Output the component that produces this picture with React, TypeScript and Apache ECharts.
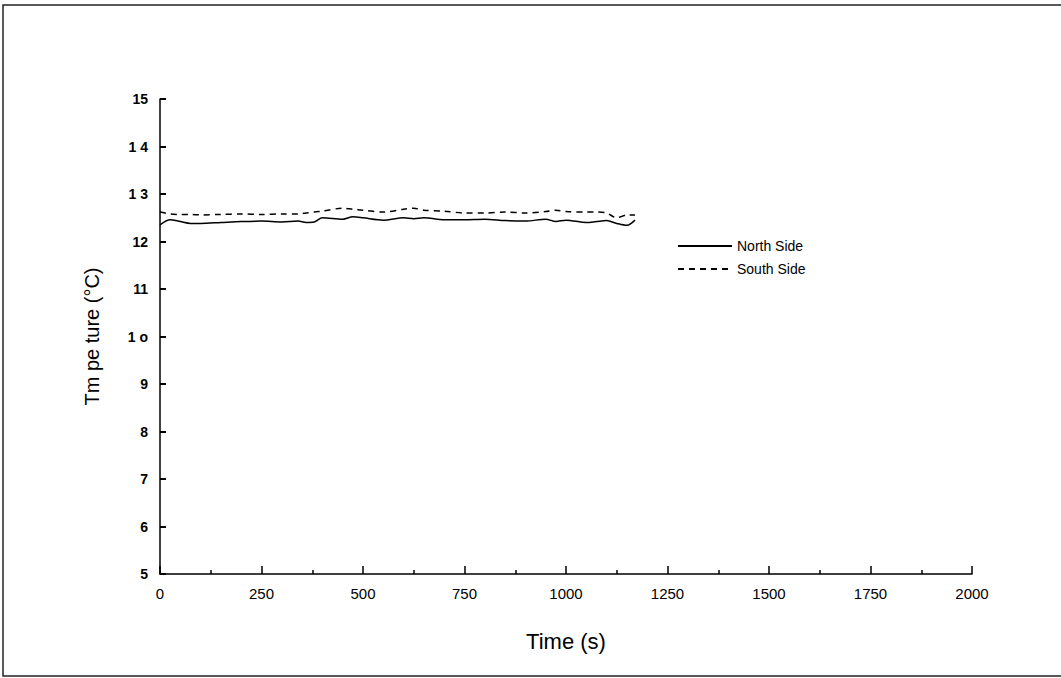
import React, { useEffect, useRef } from "react";
import * as echarts from "echarts";

const timeS = [0, 25, 50, 75, 100, 150, 200, 250, 300, 340, 360, 380, 400, 450, 475, 500, 550, 600, 625, 650, 700, 750, 800, 850, 900, 950, 975, 1000, 1050, 1075, 1100, 1125, 1150, 1170];
const northSide = [12.35, 12.46, 12.42, 12.38, 12.38, 12.4, 12.42, 12.43, 12.41, 12.43, 12.4, 12.41, 12.5, 12.47, 12.52, 12.5, 12.45, 12.5, 12.48, 12.5, 12.46, 12.46, 12.47, 12.44, 12.43, 12.47, 12.42, 12.45, 12.4, 12.42, 12.44, 12.38, 12.34, 12.45];
const southSide = [12.62, 12.58, 12.57, 12.57, 12.56, 12.57, 12.58, 12.57, 12.58, 12.58, 12.6, 12.62, 12.64, 12.7, 12.68, 12.66, 12.62, 12.68, 12.7, 12.66, 12.64, 12.6, 12.6, 12.62, 12.6, 12.63, 12.66, 12.63, 12.62, 12.62, 12.6, 12.5, 12.56, 12.56];
const yTickLabels = ["5", "6", "7", "8", "9", "1 o", "11", "12", "1 3", "1 4", "15"];
const xTickLabels = ["0", "250", "500", "750", "1000", "1250", "1500", "1750", "2000"];

export default function App() {
  const ref = useRef<HTMLDivElement>(null);
  useEffect(() => {
    if (!ref.current) return;
    const chart = echarts.init(ref.current, null, { renderer: "svg" });
    const font = "Liberation Sans, Arial, sans-serif";
    chart.setOption({
      animation: false,
      backgroundColor: "#fff",
      textStyle: { fontFamily: font, color: "#000" },
      graphic: [
        { type: "rect", shape: { x: 3, y: 5, width: 1070, height: 671 }, style: { fill: "none", stroke: "#222", lineWidth: 1.5 } },
      ],
      grid: { left: 160, right: 89, top: 99, bottom: 104 },
      legend: {
        orient: "vertical",
        left: 672,
        top: 234,
        itemWidth: 54,
        itemHeight: 14,
        itemGap: 9,
        itemStyle: { opacity: 0 },
        textStyle: { fontFamily: font, fontSize: 14, color: "#000", letterSpacing: -0.5 },
        data: ["North Side", "South Side"],
      },
      xAxis: {
        type: "value",
        min: 0,
        max: 2000,
        interval: 250,
        name: "Time (s)",
        nameLocation: "middle",
        nameGap: 56,
        nameTextStyle: { fontSize: 22, fontFamily: font, color: "#000" },
        axisLine: { lineStyle: { color: "#000", width: 1.5 } },
        axisTick: { inside: true, length: 8, lineStyle: { color: "#000", width: 1.5 } },
        minorTick: { show: true, splitNumber: 2, length: 4, lineStyle: { color: "#000", width: 1.5 } },
        splitLine: { show: false },
        axisLabel: {
          margin: 12,
          fontSize: 15,
          color: "#000",
          formatter: (v: number) => xTickLabels[Math.round(v / 250)] ?? "",
        },
      },
      yAxis: {
        type: "value",
        min: 5,
        max: 15,
        interval: 1,
        name: "Tm pe ture (°C)",
        nameLocation: "middle",
        nameGap: 58,
        nameTextStyle: { fontSize: 20, fontFamily: font, color: "#000" },
        axisLine: { show: true, lineStyle: { color: "#000", width: 1.5 } },
        axisTick: { show: true, inside: true, length: 6, lineStyle: { color: "#000", width: 2 } },
        splitLine: { show: false },
        axisLabel: {
          margin: 12,
          fontSize: 14,
          fontWeight: "bold",
          color: "#000",
          formatter: (v: number) => yTickLabels[Math.round(v - 5)] ?? "",
        },
      },
      series: [
        {
          name: "North Side",
          type: "line",
          data: timeS.map((t, i) => [t, northSide[i]]),
          symbol: "none",
          smooth: 0.3,
          itemStyle: { color: "#000" },
          lineStyle: { color: "#000", width: 1.5, type: "solid" },
        },
        {
          name: "South Side",
          type: "line",
          data: timeS.map((t, i) => [t, southSide[i]]),
          symbol: "none",
          smooth: 0.3,
          itemStyle: { color: "#000" },
          lineStyle: { color: "#000", width: 1.5, type: [6, 5] },
        },
      ],
    });
    return () => chart.dispose();
  }, []);
  return <div ref={ref} style={{ position: "fixed", left: 0, top: 0, width: 1061, height: 678 }} />;
}
